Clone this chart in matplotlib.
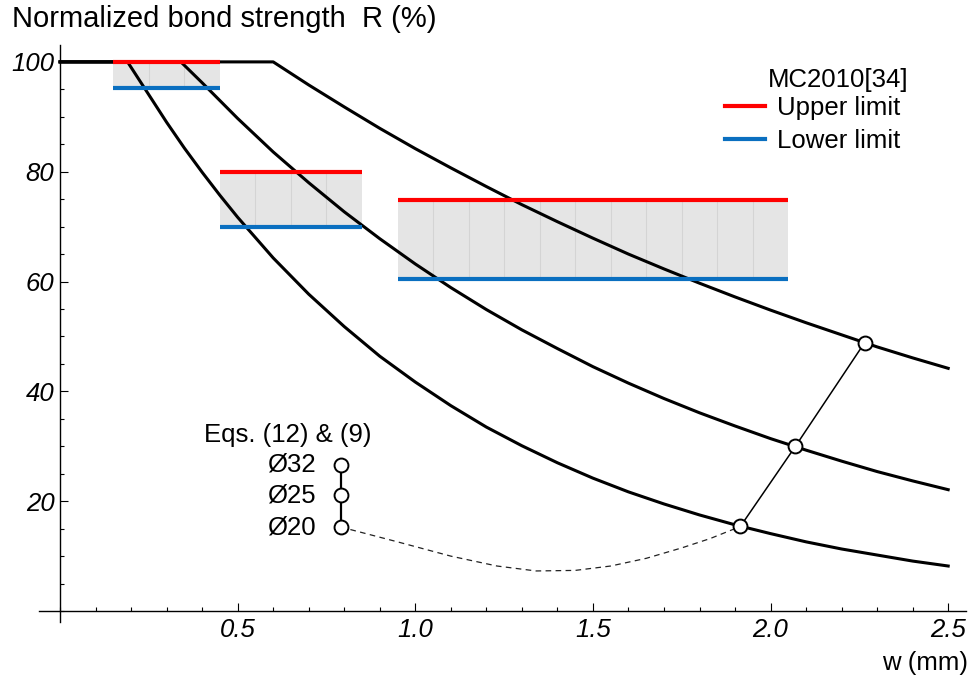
import matplotlib
matplotlib.use("Agg")
import matplotlib.pyplot as plt
from matplotlib.lines import Line2D
from matplotlib.ticker import MultipleLocator

plt.rcParams["font.family"] = ["Liberation Sans", "DejaVu Sans"]

# crack width w (mm) vs normalized bond strength R (%)
w_d20 = [0.0, 0.19, 0.25, 0.30, 0.35, 0.40, 0.45, 0.50, 0.60, 0.70, 0.80, 0.90, 1.00, 1.10,
         1.20, 1.30, 1.40, 1.50, 1.60, 1.70, 1.80, 1.90, 2.00, 2.10, 2.20, 2.30, 2.40, 2.50]
r_d20 = [100, 100, 94.0, 89.0, 84.3, 79.9, 75.7, 71.7, 64.3, 57.7, 51.8, 46.4, 41.7, 37.4,
         33.5, 30.1, 27.0, 24.2, 21.7, 19.5, 17.5, 15.7, 14.1, 12.6, 11.3, 10.2, 9.1, 8.2]

w_d25 = [0.0, 0.34, 0.40, 0.50, 0.60, 0.70, 0.80, 0.90, 1.00, 1.10, 1.20, 1.30, 1.40, 1.50,
         1.60, 1.70, 1.80, 1.90, 2.00, 2.10, 2.20, 2.30, 2.40, 2.50]
r_d25 = [100, 100, 96.2, 89.7, 83.6, 78.0, 72.7, 67.8, 63.2, 58.9, 54.9, 51.2, 47.8, 44.5,
         41.5, 38.7, 36.1, 33.7, 31.4, 29.3, 27.3, 25.4, 23.7, 22.1]

w_d32 = [0.0, 0.60, 0.70, 0.80, 0.90, 1.00, 1.10, 1.20, 1.30, 1.40, 1.50, 1.60, 1.70, 1.80,
         1.90, 2.00, 2.10, 2.20, 2.30, 2.40, 2.50]
r_d32 = [100, 100, 95.8, 91.8, 87.9, 84.2, 80.7, 77.3, 74.0, 70.9, 67.9, 65.0, 62.3, 59.7,
         57.2, 54.8, 52.5, 50.3, 48.1, 46.1, 44.2]

# points from Eqs. (12) & (9) for Ø20, Ø25, Ø32
w_eq = [1.915, 2.07, 2.265]
r_eq = [15.4, 30.0, 48.9]

# key markers (Ø32, Ø25, Ø20)
key_w = 0.79
key_r = [26.6, 21.1, 15.3]
key_labels = ["Ø32", "Ø25", "Ø20"]

# dashed link from the Ø20 key to its point
w_dash = [0.79, 0.95, 1.10, 1.23, 1.34, 1.45, 1.55, 1.65, 1.75, 1.83, 1.915]
r_dash = [15.3, 12.6, 10.0, 8.2, 7.3, 7.4, 8.2, 9.6, 11.5, 13.2, 15.4]

# MC2010 ranges: (w from, w to, lower limit, upper limit)
mc_w0 = [0.15, 0.45, 0.95]
mc_w1 = [0.45, 0.85, 2.05]
mc_lower = [95.2, 70, 60.4]
mc_upper = [100, 80, 74.8]

x_ticks = [0.5, 1.0, 1.5, 2.0, 2.5]
x_labels = ["0.5", "1.0", "1.5", "2.0", "2.5"]
y_ticks = [20, 40, 60, 80, 100]
y_labels = ["20", "40", "60", "80", "100"]

RED = "#ff0000"
BLUE = "#0a6fc0"

fig = plt.figure(figsize=(9.76, 6.84), dpi=100)
ax = fig.add_axes([0.0397, 0.0906, 0.950, 0.843])
ax.set_xlim(-0.06, 2.55)
ax.set_ylim(-2, 103)

for a, b, lo, hi in zip(mc_w0, mc_w1, mc_lower, mc_upper):
    ax.fill_between([a, b], lo, hi, color="#e5e5e5", lw=0, zorder=1)
    m = a + 0.1
    while m < b - 0.01:
        ax.plot([m, m], [lo, hi], color="#d4d4d4", lw=0.8, zorder=1.5)
        m += 0.1

for w, r in [(w_d20, r_d20), (w_d25, r_d25), (w_d32, r_d32)]:
    ax.plot(w, r, color="black", lw=2.2, solid_joinstyle="round", zorder=2)

for a, b, lo, hi in zip(mc_w0, mc_w1, mc_lower, mc_upper):
    ax.plot([a, b], [hi, hi], color=RED, lw=3, solid_capstyle="butt", zorder=3)
    ax.plot([a, b], [lo, lo], color=BLUE, lw=3, solid_capstyle="butt", zorder=3)

ax.plot(w_dash, r_dash, color="#222222", lw=0.9, ls=(0, (4.5, 3.5)), zorder=3)
ax.plot(w_eq, r_eq, color="black", lw=1.1, zorder=4)
ax.plot(w_eq, r_eq, "o", ms=10, mfc="white", mec="black", mew=1.4, zorder=5)

ax.plot([key_w] * 3, key_r, color="black", lw=1.6, zorder=4)
ax.plot([key_w] * 3, key_r, "o", ms=10, mfc="white", mec="black", mew=1.4, zorder=5)
for r, lab in zip(key_r, key_labels):
    ax.annotate(lab, (key_w, r), xytext=(-18, 0), textcoords="offset points",
                ha="right", va="center", fontsize=18.5)
ax.text(0.406, 32.1, "Eqs. (12) & (9)", ha="left", va="center", fontsize=18.5)

for s in ["top", "right"]:
    ax.spines[s].set_visible(False)
ax.spines["left"].set_position(("data", 0))
ax.spines["bottom"].set_position(("data", 0))
for s in ["left", "bottom"]:
    ax.spines[s].set_linewidth(1.0)

ax.set_xticks(x_ticks)
ax.set_xticklabels(x_labels, fontstyle="italic", fontsize=18.5)
ax.set_yticks(y_ticks)
ax.set_yticklabels(y_labels, fontstyle="italic", fontsize=18.5)
ax.xaxis.set_minor_locator(MultipleLocator(0.1))
ax.yaxis.set_minor_locator(MultipleLocator(5))
ax.tick_params(which="both", direction="in", width=0.8)
ax.tick_params(which="major", length=5.5)
ax.tick_params(which="minor", length=3)
ax.tick_params(axis="x", pad=5)
ax.tick_params(axis="y", pad=4)

handles = [Line2D([], [], color=RED, lw=3), Line2D([], [], color=BLUE, lw=3)]
ax.legend(handles, ["Upper limit", "Lower limit"], loc="upper right",
          bbox_to_anchor=(900 / 976, 1 - 96 / 684), bbox_transform=fig.transFigure,
          frameon=False, fontsize=18.5, handlelength=1.55, handletextpad=0.45,
          labelspacing=0.35, borderpad=0, borderaxespad=0)
fig.text(838 / 976, 1 - 80 / 684, "MC2010[34]", ha="center", va="center", fontsize=18.5)

fig.text(12 / 976, 1 - 19 / 684, "Normalized bond strength  R (%)", ha="left",
         va="center", fontsize=21)
fig.text(968 / 976, 1 - 663 / 684, "w (mm)", ha="right", va="center", fontsize=18.5)

fig.savefig("out.png", dpi=100)
